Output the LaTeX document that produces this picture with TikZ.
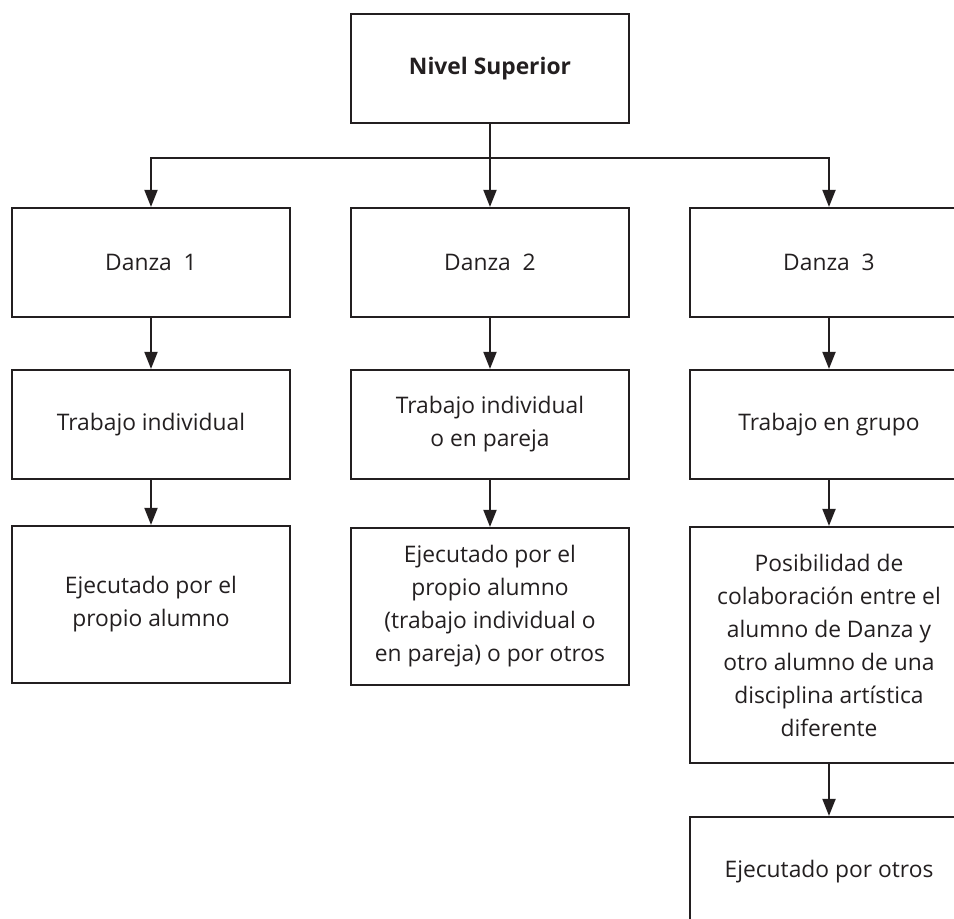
\documentclass[tikz,border=0pt]{standalone}
\usepackage{fontspec}
\setmainfont{Open Sans}
\usetikzlibrary{arrows.meta}
\definecolor{ink}{HTML}{231F20}
\begin{document}
\begin{tikzpicture}[x=1pt, y=-1pt,
  box/.style={rectangle, draw=ink, line width=2.2pt, text=ink, minimum width=278pt, minimum height=109pt, align=center, inner sep=0pt, font=\fontsize{22.8}{33}\selectfont},
  arr/.style={draw=ink, line width=2pt, -{Triangle[length=17pt,width=13pt]}}]
\useasboundingbox (0,0) rectangle (954,919);
\clip (0,0) rectangle (954,919);
\node [box, font=\fontsize{22.8}{33}\selectfont\bfseries] (sup) at (490,68.5) {Nivel Superior};
\coordinate (split) at (490,158);
\node [box] (d1) at (151,262.5) {Danza\ \ 1};
\node [box] (d2) at (490,262.5) {Danza\ \ 2};
\node [box] (d3) at (829,262.5) {Danza\ \ 3};
\node [box] (t1) at (151,424.5) {Trabajo individual};
\node [box] (t2) at (490,424.5) {Trabajo individual\\o en pareja};
\node [box] (t3) at (829,424.5) {Trabajo en grupo};
\node [box, minimum height=157pt] (e1) at (151,604.5) {Ejecutado por el\\propio alumno};
\node [box, minimum height=157pt] (e2) at (490,606.5) {Ejecutado por el\\propio alumno\\(trabajo individual o\\en pareja) o por otros};
\node [box, minimum height=236pt] (p3) at (829,645) {Posibilidad de\\colaboración entre el\\alumno de Danza y\\otro alumno de una\\disciplina artística\\diferente};
\node [box] (e3) at (829,871.5) {Ejecutado por otros};
\draw [draw=ink, line width=2pt] (sup) -- (split);
\draw [arr] (split) -| (d1);
\draw [arr] (split) -- (d2);
\draw [arr] (split) -| (d3);
\draw [arr] (d1) -- (t1);
\draw [arr] (d2) -- (t2);
\draw [arr] (d3) -- (t3);
\draw [arr] (t1) -- (e1);
\draw [arr] (t2) -- (e2);
\draw [arr] (t3) -- (p3);
\draw [arr] (p3) -- (e3);
\end{tikzpicture}
\end{document}
